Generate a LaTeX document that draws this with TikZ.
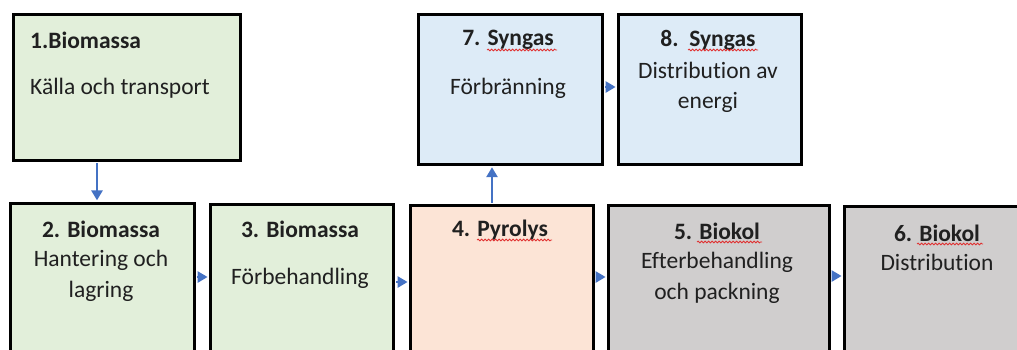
\documentclass[tikz,border=0pt]{standalone}
\usepackage{fontspec}
\setmainfont{Carlito}[Ligatures=NoCommon,Contextuals=NoAlternate,RawFeature={-liga;-clig;-calt;-dlig}]
\usetikzlibrary{arrows.meta,decorations.pathmorphing}
\definecolor{bgreen}{HTML}{E2EFDA}
\definecolor{bblue}{HTML}{DDEBF7}
\definecolor{bpeach}{HTML}{FCE4D6}
\definecolor{bgrey}{HTML}{D0CECE}
\definecolor{arrblue}{HTML}{4472C4}
\definecolor{txt}{HTML}{202020}
\definecolor{spell}{HTML}{E03030}
\begin{document}
\begin{tikzpicture}[x=1pt,y=-1pt,
  box/.style={draw=black,line width=2.8pt,anchor=north west,inner sep=0pt},
  lbl/.style={text=txt,font=\fontsize{23.5}{30.5}\selectfont,align=center,inner sep=0pt},
  ttl/.style={lbl,font=\fontsize{23.5}{30.5}\selectfont\bfseries},
  arr/.style={draw=arrblue,line width=2.5pt,-{Triangle[length=10pt,width=11pt]}},
  wavy/.style={draw=spell,line width=0.8pt,decorate,decoration={snake,amplitude=0.9pt,segment length=3.5pt}}]
\useasboundingbox (0,0) rectangle (1017,349);
\clip (0,0) rectangle (1017,349);
% boxes
\node[box,fill=bgreen,minimum width=227,minimum height=146] (b1) at (12,13) {};
\node[box,fill=bgreen,minimum width=184,minimum height=170] (b2) at (9,202) {};
\node[box,fill=bgreen,minimum width=183,minimum height=170] (b3) at (209,203) {};
\node[box,fill=bpeach,minimum width=183,minimum height=170] (b4) at (409,204) {};
\node[box,fill=bgrey,minimum width=221,minimum height=170] (b5) at (607,204) {};
\node[box,fill=bgrey,minimum width=200,minimum height=170] (b6) at (843,205) {};
\node[box,fill=bblue,minimum width=184,minimum height=150] (b7) at (417,13) {};
\node[box,fill=bblue,minimum width=183,minimum height=150] (b8) at (617,13) {};
% texts
\node[ttl,anchor=west] (t1) at (30,40) {1.Biomassa};
\node[lbl,anchor=west] (l1) at (30,88) {Källa och transport};
\node[ttl] (t2) at (101,229) {2. Biomassa};
\node[lbl] (l2) at (101,276) {Hantering och\\lagring};
\node[ttl] (t3) at (300,229) {3. Biomassa};
\node[lbl] (l3) at (300,278) {Förbehandling};
\node[ttl] (t4) at (500,230) {4. Pyrolys};
\node[ttl] (t5) at (717,231) {5. Biokol};
\node[lbl] (l5) at (717,278) {Efterbehandling\\och packning};
\node[ttl] (t6) at (937,233) {6. Biokol};
\node[lbl] (l6) at (937,262) {Distribution};
\node[ttl] (t7) at (508,40) {7. Syngas};
\node[lbl] (l7) at (508,88) {Förbränning};
\node[ttl] (t8) at (708,40) {8.~~Syngas};
\node[lbl] (l8) at (708,87.5) {Distribution av\\energi};
% spell-check marks
\draw[wavy] (487,50) -- (557,50);
\draw[wavy] (688,50) -- (758,50);
\draw[wavy] (477,240) -- (552,240);
\draw[wavy] (697,242) -- (762,242);
\draw[wavy] (917,244) -- (983,244);
% arrows
\coordinate (x12) at (97,0);
\coordinate (x47) at (492,0);
\coordinate (y23) at (0,277);
\coordinate (y34) at (0,282);
\coordinate (y45) at (0,277);
\coordinate (y56) at (0,276);
\coordinate (y78) at (0,87);
\draw[arr,shorten <=1.4pt,shorten >=1.6pt] (b1.south -| x12) -- (b2.north -| x12);
\draw[arr,shorten <=1.4pt,shorten >=1.4pt] (b2.east |- y23) -- (b3.west |- y23);
\draw[arr,shorten <=1.4pt,shorten >=1.4pt] (b3.east |- y34) -- (b4.west |- y34);
\draw[arr,shorten <=1.4pt,shorten >=1.4pt] (b4.east |- y45) -- (b5.west |- y45);
\draw[arr,shorten <=1.4pt,shorten >=1.4pt] (b5.east |- y56) -- (b6.west |- y56);
\draw[arr,shorten <=1.4pt,shorten >=1.4pt] (b7.east |- y78) -- (b8.west |- y78);
\draw[arr,shorten <=1.4pt,shorten >=1.4pt] (b4.north -| x47) -- (b7.south -| x47);
\end{tikzpicture}
\end{document}
